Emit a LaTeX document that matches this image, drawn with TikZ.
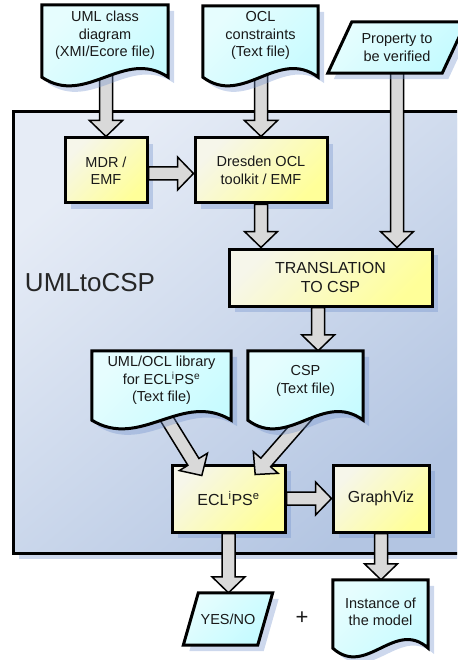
\documentclass[tikz,border=0pt]{standalone}
\usepackage{fontspec}
\setmainfont{Liberation Sans}
\usetikzlibrary{calc,shadows}
\definecolor{arrowfill}{HTML}{D9D9D9}
\definecolor{docA}{HTML}{E6FDFE}
\definecolor{docB}{HTML}{C4FBFF}
\definecolor{boxA}{HTML}{F6F6EA}
\definecolor{boxB}{HTML}{FFFF99}
\definecolor{contA}{HTML}{E6ECF6}
\definecolor{contB}{HTML}{B3C5E2}
\definecolor{shadowc}{HTML}{6F8FCC}
\pgfdeclarelayer{back}\pgfdeclarelayer{boxes}\pgfdeclarelayer{arrows}\pgfdeclarelayer{docs}
\pgfsetlayers{back,boxes,arrows,docs,main}
\tikzset{
  every node/.style={font=\fontsize{14.5}{17.5}\selectfont, align=center, inner sep=0pt, text=black!90},
  bigfont/.style={font=\fontsize{16}{19}\selectfont},
  boxshadow/.style={drop shadow={shadow xshift=6pt, shadow yshift=-6pt, fill=shadowc, opacity=.35}},
  procbox/.style={draw=black, line width=3pt, top color=boxA, bottom color=boxB, shading angle=45, boxshadow},
  docstyle/.style={draw=black, line width=3pt, top color=docA, bottom color=docB, shading angle=45},
  shadowfill/.style={fill=shadowc, opacity=.35},
  arrowstyle/.style={fill=arrowfill, draw=black, line width=1.5pt, line join=miter},
  container/.style={draw=black, line width=3pt, top color=contA, bottom color=contB, shading angle=40, boxshadow}
}
% document shape outline: name, extra depth of the wavy bottom below the node
\newcommand\docshape[2]{%
  \begin{scope}[transform canvas={shift={(6pt,-6pt)}}]
    \path[shadowfill] (#1.north west) -- (#1.north east) -- ($(#1.south east)+(0,#2)$)
      .. controls ($(#1.south east)!0.35!(#1.south west)+(0,#2-30)$) and ($(#1.south east)!0.65!(#1.south west)+(0,#2+30)$) .. ($(#1.south west)+(0,#2)$) -- cycle;
  \end{scope}
  \path[docstyle] (#1.north west) -- (#1.north east) -- ($(#1.south east)+(0,#2)$)
    .. controls ($(#1.south east)!0.35!(#1.south west)+(0,#2-30)$) and ($(#1.south east)!0.65!(#1.south west)+(0,#2+30)$) .. ($(#1.south west)+(0,#2)$) -- cycle;
}
% parallelogram outline: name, half slant
\newcommand\parashape[2]{%
  \begin{scope}[transform canvas={shift={(6pt,-6pt)}}]
    \path[shadowfill] ($(#1.north west)+(#2,0)$) -- ($(#1.north east)+(#2,0)$) -- ($(#1.south east)+(-#2,0)$) -- ($(#1.south west)+(-#2,0)$) -- cycle;
  \end{scope}
  \path[docstyle] ($(#1.north west)+(#2,0)$) -- ($(#1.north east)+(#2,0)$) -- ($(#1.south east)+(-#2,0)$) -- ($(#1.south west)+(-#2,0)$) -- cycle;
}
% block arrow between two coordinates
\newcommand\barrow[2]{%
  \coordinate (ba) at (#1);
  \coordinate (bb) at (#2);
  \coordinate (bh) at ($(bb)!16pt!(ba)$);
  \path[arrowstyle] ($(ba)!6.5pt!90:(bb)$) -- ($(bh)!6.5pt!90:(bb)$) -- ($(bh)!16.5pt!90:(bb)$) -- (bb)
    -- ($(bh)!16.5pt!-90:(bb)$) -- ($(bh)!6.5pt!-90:(bb)$) -- ($(ba)!6.5pt!-90:(bb)$) -- cycle;
}
\begin{document}
\begin{tikzpicture}[x=1pt,y=-1pt]
\useasboundingbox (0,0) rectangle (457,660);

% container
\begin{pgfonlayer}{back}
  \begin{scope}
    \clip (0,0) rectangle (457,660);
    \node[container, minimum width=457pt, minimum height=441pt] (sys) at (241.5,332.5) {};
  \end{scope}
\end{pgfonlayer}
\node[font=\fontsize{26}{30}\selectfont, text=black!85] (lbl) at (90,283) {UMLtoCSP};

% processing boxes
\begin{pgfonlayer}{boxes}
  \node[procbox, minimum width=82pt, minimum height=65pt] (mdr) at (106,170.5) {MDR /\\EMF};
  \node[procbox, minimum width=132pt, minimum height=65pt] (dres) at (261,170.5) {Dresden OCL\\toolkit / EMF};
  \node[procbox, bigfont, minimum width=203pt, minimum height=57pt] (trans) at (330.5,277.5) {TRANSLATION\\TO CSP};
  \node[procbox, bigfont, minimum width=113pt, minimum height=67pt] (ecl) at (228.5,498.5) {ECL\textsuperscript{i}PS\textsuperscript{e}};
  \node[procbox, bigfont, minimum width=96pt, minimum height=67pt] (gv) at (381,498.5) {GraphViz};
\end{pgfonlayer}

% documents and inputs/outputs (text)
\node[minimum width=126pt, minimum height=61pt] (uml) at (105,35.5) {UML class\\diagram\\(XMI/Ecore file)};
\node[minimum width=115pt, minimum height=59pt] (ocl) at (260.5,35.5) {OCL\\constraints\\(Text file)};
\node[minimum width=114pt, minimum height=51pt] (prop) at (397,47.5) {Property to\\be verified};
\node[minimum width=139pt, minimum height=59pt] (lib) at (161.5,380.5) {UML/OCL library\\for ECL\textsuperscript{i}PS\textsuperscript{e}\\(Text file)};
\node[minimum width=115pt, minimum height=60pt] (csp) at (305.5,381) {CSP\\(Text file)};
\node[minimum width=74pt, minimum height=52pt] (yesno) at (228,619) {YES/NO};
\node[minimum width=95pt, minimum height=64pt] (inst) at (380.5,612) {Instance of\\the model};
\node[font=\fontsize{22}{24}\selectfont] (plus) at (302,618) {+};

\begin{pgfonlayer}{docs}
  \docshape{uml}{11}
  \docshape{ocl}{12}
  \parashape{prop}{12}
  \docshape{lib}{10}
  \docshape{csp}{9}
  \parashape{yesno}{7.5}
  \docshape{inst}{4}
\end{pgfonlayer}

% connectors
\begin{pgfonlayer}{arrows}
  \barrow{uml.south -| mdr.north}{mdr.north}
  \barrow{ocl.south -| dres.north}{dres.north}
  \coordinate (h1) at ($(mdr.east)+(0,3)$);
  \barrow{h1}{h1 -| dres.west}
  \barrow{dres.south}{dres.south |- trans.north}
  \barrow{prop.south}{prop.south |- trans.north}
  \coordinate (t1) at ($(trans.south west)!0.44!(trans.south east)$);
  \barrow{t1}{t1 |- csp.north}
  \coordinate (e1) at ($(ecl.north west)!0.27!(ecl.north east)+(0,12)$);
  \barrow{lib.south}{e1}
  \coordinate (e2) at ($(ecl.north west)!0.73!(ecl.north east)+(0,11)$);
  \coordinate (c1) at ($(csp.south)+(5,0)$);
  \barrow{c1}{e2}
  \barrow{ecl.east}{gv.west}
  \barrow{ecl.south}{ecl.south |- yesno.north}
  \barrow{gv.south}{gv.south |- inst.north}
\end{pgfonlayer}
\end{tikzpicture}
\end{document}
